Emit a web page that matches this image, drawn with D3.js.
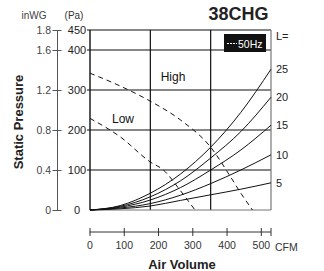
<!DOCTYPE html>
<html><head><meta charset="utf-8">
<script src="https://cdn.jsdelivr.net/npm/d3@7"></script>
<style>body{margin:0;background:#fff}svg{display:block;font-family:"Liberation Sans",Arial,sans-serif}</style>
</head><body><svg id="c" width="324" height="271"></svg>
<script>
// Air volume sample points (m³/h, internal plot units)
const flowM3h = [0, 150, 300, 450, 600, 750, 900];
// System curves (Pa) per L value
const systemLabels = ["25", "20", "15", "10", "5"];
const sysL25 = [0, 11, 42, 90, 157, 244, 352];
const sysL20 = [0, 9, 33, 73, 130, 196, 282];
const sysL15 = [0, 7, 25, 56, 100, 150, 212];
const sysL10 = [0, 5, 16, 37, 66, 100, 138];
const sysL5  = [0, 3, 10, 24, 38, 52, 68];
// Fan curves (50Hz): flow m³/h and pressure Pa
const highFlow = [0, 150, 300, 450, 600, 700, 750, 808];
const highPa   = [342, 310, 272, 225, 157, 82, 42, 0];
const lowFlow  = [0, 150, 300, 365, 450, 522];
const lowPa    = [229, 183, 120, 100, 48, 0];
// Axis ticks
const paTicks = [0, 100, 200, 300, 400, 450];
const inwgTicks = [0, 0.4, 0.8, 1.2, 1.6, 1.8];
const cfmTicks = [0, 100, 200, 300, 400, 500];
const gridFlow = [300, 600];
const gridPa = [100, 200, 300, 400];

const svg = d3.select("#c");
const x = d3.scaleLinear().domain([0, 900]).range([90, 271]);
const y = d3.scaleLinear().domain([0, 450]).range([210, 30]);
const yIn = d3.scaleLinear().domain([0, 1.8]).range([210, 30]);
const xCfm = d3.scaleLinear().domain([0, 900 / 1.699]).range([89.5, 271]);

// grid
svg.append("g").selectAll("line").data(gridPa).join("line")
  .attr("x1", 87).attr("x2", 271).attr("y1", d => y(d)).attr("y2", d => y(d))
  .attr("stroke", "#111").attr("stroke-width", 1.2);
svg.append("g").selectAll("line").data(gridFlow).join("line")
  .attr("x1", d => x(d)).attr("x2", d => x(d)).attr("y1", 30).attr("y2", 210)
  .attr("stroke", "#111").attr("stroke-width", 1.2);
// frame
svg.append("line").attr("x1", 87).attr("x2", 271).attr("y1", 30).attr("y2", 30).attr("stroke", "#111").attr("stroke-width", 1.2);
svg.append("line").attr("x1", 90).attr("x2", 90).attr("y1", 30).attr("y2", 210).attr("stroke", "#111").attr("stroke-width", 1.4);
svg.append("line").attr("x1", 271).attr("x2", 271).attr("y1", 30).attr("y2", 210).attr("stroke", "#777").attr("stroke-width", 1.2);
svg.append("line").attr("x1", 90).attr("x2", 271).attr("y1", 210).attr("y2", 210).attr("stroke", "#777").attr("stroke-width", 1.2);

// Pa labels
svg.append("g").selectAll("text").data(paTicks).join("text")
  .attr("x", 77).attr("y", d => y(d) + 4).attr("text-anchor", "middle")
  .attr("font-size", 11).attr("fill", "#222").text(d => d);
svg.append("text").attr("x", 74).attr("y", 19).attr("text-anchor", "middle").attr("font-size", 10).attr("fill", "#333").text("(Pa)");

// inWG axis
const gIn = svg.append("g").attr("transform", "translate(57,0)")
  .call(d3.axisLeft(yIn).tickValues(inwgTicks).tickFormat(d => d === 0 ? "0" : d3.format(".1f")(d)).tickSize(0).tickPadding(6));
gIn.select(".domain").attr("stroke", "#555");
gIn.selectAll(".tick line").attr("x1", -4.5).attr("x2", 4.5).attr("stroke", "#555");
gIn.selectAll("text").attr("font-size", 10.5).attr("fill", "#444").attr("font-family", "Liberation Sans, Arial, sans-serif");
svg.append("text").attr("x", 34).attr("y", 19).attr("text-anchor", "middle").attr("font-size", 10).attr("fill", "#444").text("inWG");
svg.append("text").attr("transform", "translate(23,122) rotate(-90)").attr("text-anchor", "middle")
  .attr("font-size", 13).attr("font-weight", "bold").attr("fill", "#222").text("Static Pressure");

// bottom CFM axis
const gx = svg.append("g").attr("transform", "translate(0,232)")
  .call(d3.axisBottom(xCfm).tickValues(cfmTicks).tickSize(0).tickPadding(10));
gx.select(".domain").attr("stroke", "#333").attr("d", `M${xCfm(0)},0H271`);
gx.selectAll(".tick line").attr("y1", -4).attr("y2", 4).attr("stroke", "#333");
gx.selectAll("text").attr("font-size", 10.5).attr("fill", "#333").attr("font-family", "Liberation Sans, Arial, sans-serif");
gx.append("line").attr("x1", 271).attr("x2", 271).attr("y1", -4).attr("y2", 4).attr("stroke", "#333");
svg.append("text").attr("x", 275).attr("y", 251).attr("font-size", 10.5).attr("fill", "#333").text("CFM");
svg.append("text").attr("x", 182).attr("y", 269).attr("text-anchor", "middle").attr("font-size", 13).attr("font-weight", "bold").attr("fill", "#222").text("Air Volume");

// system curves
const sysSeries = [sysL25, sysL20, sysL15, sysL10, sysL5];
const line = d3.line().x(d => x(d[0])).y(d => y(d[1])).curve(d3.curveMonotoneX);
sysSeries.forEach((s, i) => {
  svg.append("path").attr("d", line(flowM3h.map((f, j) => [f, s[j]])))
    .attr("fill", "none").attr("stroke", "#111").attr("stroke-width", 1);
  svg.append("text").attr("x", 276).attr("y", y(s[s.length - 1]) + 4).attr("font-size", 11).attr("fill", "#222").text(systemLabels[i]);
});
svg.append("text").attr("x", 276).attr("y", 40).attr("font-size", 11).attr("fill", "#222").text("L=");

// fan curves
const fanLine = d3.line().x(d => x(d[0])).y(d => y(d[1])).curve(d3.curveMonotoneX);
[[highFlow, highPa], [lowFlow, lowPa]].forEach(([f, p]) => {
  svg.append("path").attr("d", fanLine(f.map((v, j) => [v, p[j]])))
    .attr("fill", "none").attr("stroke", "#111").attr("stroke-width", 1).attr("stroke-dasharray", "5,4");
});
svg.append("text").attr("x", 173).attr("y", 81).attr("text-anchor", "middle").attr("font-size", 12).attr("fill", "#111").text("High");
svg.append("text").attr("x", 123).attr("y", 123).attr("text-anchor", "middle").attr("font-size", 12).attr("fill", "#111").text("Low");

// title
svg.append("text").attr("x", 238.5).attr("y", 20).attr("text-anchor", "middle").attr("font-size", 18).attr("font-weight", "bold").attr("fill", "#222").text("38CHG");
// legend
svg.append("rect").attr("x", 224).attr("y", 34).attr("width", 42).attr("height", 18).attr("fill", "#111");
svg.append("line").attr("x1", 227).attr("x2", 237).attr("y1", 43.5).attr("y2", 43.5).attr("stroke", "#fff").attr("stroke-width", 1).attr("stroke-dasharray", "2,1");
svg.append("text").attr("x", 238).attr("y", 47.5).attr("font-size", 10.5).attr("fill", "#fff").text("50Hz");
</script></body></html>
